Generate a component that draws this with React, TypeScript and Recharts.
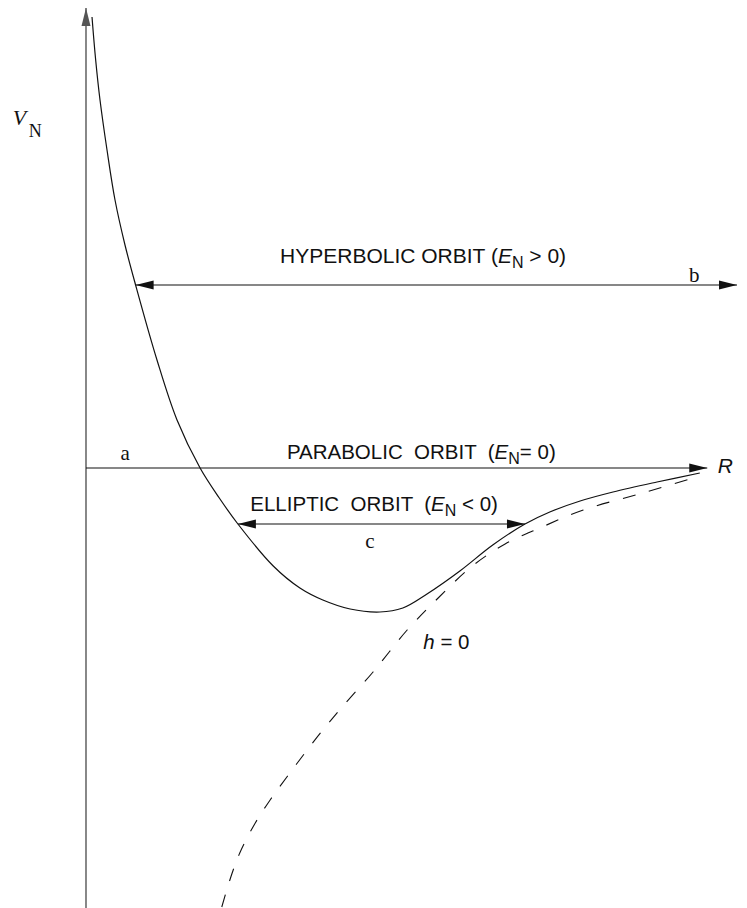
import React from "react";
import { ComposedChart, Line, XAxis, YAxis, ReferenceLine, ReferenceDot } from "recharts";

// effective potential V_N(R) for h > 0
const potential = [
  { r: 0.097, v: 9.02 },
  { r: 0.156, v: 8.16 },
  { r: 0.226, v: 7.36 },
  { r: 0.339, v: 6.36 },
  { r: 0.468, v: 5.36 },
  { r: 0.629, v: 4.46 },
  { r: 0.8, v: 3.66 },
  { r: 1.145, v: 2.16 },
  { r: 1.468, v: 0.96 },
  { r: 1.84, v: 0 },
  { r: 2.15, v: -0.6 },
  { r: 2.45, v: -1.12 },
  { r: 3.02, v: -1.96 },
  { r: 3.45, v: -2.4 },
  { r: 3.82, v: -2.64 },
  { r: 4.26, v: -2.82 },
  { r: 4.74, v: -2.88 },
  { r: 5.11, v: -2.8 },
  { r: 5.5, v: -2.52 },
  { r: 6.03, v: -2.06 },
  { r: 6.56, v: -1.54 },
  { r: 7.08, v: -1.12 },
  { r: 7.48, v: -0.88 },
  { r: 7.97, v: -0.66 },
  { r: 8.5, v: -0.48 },
  { r: 9.21, v: -0.28 },
  { r: 9.9, v: -0.1 },
];

// h = 0 curve
const potentialH0 = [
  { r: 2.19, v: -8.78 },
  { r: 2.32, v: -8.24 },
  { r: 2.48, v: -7.7 },
  { r: 2.73, v: -7.1 },
  { r: 2.97, v: -6.64 },
  { r: 3.24, v: -6.18 },
  { r: 3.53, v: -5.7 },
  { r: 3.82, v: -5.24 },
  { r: 4.13, v: -4.78 },
  { r: 4.63, v: -4.08 },
  { r: 5.18, v: -3.24 },
  { r: 5.68, v: -2.6 },
  { r: 6.23, v: -1.96 },
  { r: 6.76, v: -1.52 },
  { r: 7.32, v: -1.2 },
  { r: 8.02, v: -0.84 },
  { r: 8.98, v: -0.5 },
  { r: 9.85, v: -0.18 },
];

const rDomain = [-1.387, 10.661];
const vDomain = [-8.8, 9.36];

// energy levels: [E_N, R start, R end]
const hyperbolic = [3.66, 0.8, 10.5];
const parabolic = [0, 0, 10.02];
const elliptic = [-1.12, 2.45, 7.08];
const vAxisTop = 9.2;

const SANS = "'Liberation Sans', Arial, Helvetica, sans-serif";
const SERIF = "'Liberation Serif', 'Times New Roman', serif";

// centripetal Catmull-Rom, passed to <Line type> as a curve factory
type Pt = [number, number];
const centripetal = (ctx: any) => {
  let pts: Pt[] = [];
  const seg = (p0: Pt | undefined, p1: Pt, p2: Pt, p3: Pt | undefined) => {
    const dist = (a: Pt, b: Pt) => Math.hypot(a[0] - b[0], a[1] - b[1]);
    const l01 = p0 ? Math.sqrt(dist(p0, p1)) : 0;
    const l12 = Math.sqrt(dist(p1, p2));
    const l23 = p3 ? Math.sqrt(dist(p2, p3)) : 0;
    let c1: Pt = [p1[0], p1[1]];
    let c2: Pt = [p2[0], p2[1]];
    if (p0 && l01 > 1e-9) {
      const a = 2 * l01 * l01 + 3 * l01 * l12 + l12 * l12;
      const n = 3 * l01 * (l01 + l12);
      c1 = [0, 1].map((k) => (p1[k] * a - p0[k] * l12 * l12 + p2[k] * l01 * l01) / n) as Pt;
    }
    if (p3 && l23 > 1e-9) {
      const b = 2 * l23 * l23 + 3 * l23 * l12 + l12 * l12;
      const m = 3 * l23 * (l23 + l12);
      c2 = [0, 1].map((k) => (p2[k] * b + p1[k] * l23 * l23 - p3[k] * l12 * l12) / m) as Pt;
    }
    ctx.bezierCurveTo(c1[0], c1[1], c2[0], c2[1], p2[0], p2[1]);
  };
  return {
    areaStart() {},
    areaEnd() {},
    lineStart() {
      pts = [];
    },
    point(x: number, y: number) {
      pts.push([+x, +y]);
    },
    lineEnd() {
      if (!pts.length) return;
      ctx.moveTo(pts[0][0], pts[0][1]);
      for (let i = 0; i < pts.length - 1; i++) {
        seg(pts[i - 1], pts[i], pts[i + 1], pts[i + 2]);
      }
    },
  };
};

const head = (tx: number, ty: number, ang: number, len = 18, half = 4.5) => {
  const bx = tx - len * Math.cos(ang);
  const by = ty - len * Math.sin(ang);
  const px = -Math.sin(ang) * half;
  const py = Math.cos(ang) * half;
  return `${tx},${ty} ${bx + px},${by + py} ${bx - px},${by - py}`;
};

const arrow = (stroke: string, width: number, atStart: boolean, atEnd: boolean) => (p: any) => {
  const { x1, y1, x2, y2 } = p;
  const ang = Math.atan2(y2 - y1, x2 - x1);
  return (
    <g>
      <line x1={x1} y1={y1} x2={x2} y2={y2} stroke={stroke} strokeWidth={width} />
      {atStart && <polygon points={head(x1, y1, ang + Math.PI)} fill={stroke} />}
      {atEnd && <polygon points={head(x2, y2, ang)} fill={stroke} />}
    </g>
  );
};

const at = (render: (x: number, y: number) => React.ReactElement) => (p: any) => render(p.cx, p.cy);

const Sub = ({ children, dy = 5 }: { children: string; dy?: number }) => (
  <tspan fontSize={16} dy={dy}>{children}</tspan>
);

export default function App() {
  return (
    <div style={{ position: "absolute", left: 0, top: 0 }}>
      <ComposedChart width={747} height={908} margin={{ top: 0, right: 0, bottom: 0, left: 0 }}>
        <XAxis type="number" dataKey="r" domain={rDomain} hide allowDataOverflow />
        <YAxis type="number" dataKey="v" domain={vDomain} hide allowDataOverflow />

        <ReferenceLine
          segment={[{ x: 0, y: vDomain[0] }, { x: 0, y: vAxisTop }]}
          shape={arrow("#555", 1.4, false, true)}
        />
        <ReferenceLine
          segment={[{ x: parabolic[1], y: parabolic[0] }, { x: parabolic[2], y: parabolic[0] }]}
          shape={arrow("#111", 1.2, false, true)}
        />
        <ReferenceLine
          segment={[{ x: hyperbolic[1], y: hyperbolic[0] }, { x: hyperbolic[2], y: hyperbolic[0] }]}
          shape={arrow("#111", 1.2, true, true)}
        />
        <ReferenceLine
          segment={[{ x: elliptic[1], y: elliptic[0] }, { x: elliptic[2], y: elliptic[0] }]}
          shape={arrow("#111", 1.2, true, true)}
        />

        <Line
          data={potential}
          dataKey="v"
          type={centripetal as any}
          stroke="#111"
          strokeWidth={1.2}
          dot={false}
          activeDot={false}
          isAnimationActive={false}
        />
        <Line
          data={potentialH0}
          dataKey="v"
          type={centripetal as any}
          stroke="#111"
          strokeWidth={1.1}
          strokeDasharray="13 14"
          dot={false}
          activeDot={false}
          isAnimationActive={false}
        />

        {/* axis labels */}
        <ReferenceDot x={-1.18} y={6.86} r={0} ifOverflow="visible" shape={at((x, y) => (
          <text x={x} y={y} fontFamily={SERIF} fontSize={22} fill="#111">
            <tspan fontStyle="italic">V</tspan>
            <tspan fontSize={18} dx={2.5} dy={12}>N</tspan>
          </text>
        ))} />
        <ReferenceDot x={10.19} y={-0.1} r={0} ifOverflow="visible" shape={at((x, y) => (
          <text x={x} y={y} fontFamily={SANS} fontSize={21} fontStyle="italic" fill="#111">R</text>
        ))} />

        {/* orbit labels */}
        <ReferenceDot x={3.13} y={4.1} r={0} ifOverflow="visible" shape={at((x, y) => (
          <text x={x} y={y} fontFamily={SANS} fontSize={21} fill="#111" style={{ whiteSpace: "pre" }}>
            HYPERBOLIC ORBIT (<tspan fontStyle="italic">E</tspan><Sub>N</Sub><tspan dy={-5}> &gt; 0)</tspan>
          </text>
        ))} />
        <ReferenceDot x={3.24} y={0.18} r={0} ifOverflow="visible" shape={at((x, y) => (
          <text x={x} y={y} fontFamily={SANS} fontSize={20.5} fill="#111" style={{ whiteSpace: "pre" }}>
            {"PARABOLIC  ORBIT  ("}<tspan fontStyle="italic">E</tspan><Sub>N</Sub><tspan dy={-5}>{"= 0)"}</tspan>
          </text>
        ))} />
        <ReferenceDot x={2.65} y={-0.86} r={0} ifOverflow="visible" shape={at((x, y) => (
          <text x={x} y={y} fontFamily={SANS} fontSize={20.5} fill="#111" style={{ whiteSpace: "pre" }}>
            {"ELLIPTIC  ORBIT  ("}<tspan fontStyle="italic">E</tspan><Sub>N</Sub><tspan dy={-5}>{" < 0)"}</tspan>
          </text>
        ))} />
        <ReferenceDot x={5.44} y={-3.62} r={0} ifOverflow="visible" shape={at((x, y) => (
          <text x={x} y={y} fontFamily={SANS} fontSize={20.5} fill="#111">
            <tspan fontStyle="italic">h</tspan> = 0
          </text>
        ))} />

        {/* turning point markers */}
        <ReferenceDot x={0.63} y={0.16} r={0} ifOverflow="visible" shape={at((x, y) => (
          <text x={x} y={y} fontFamily={SERIF} fontSize={21} textAnchor="middle" fill="#111">a</text>
        ))} />
        <ReferenceDot x={9.81} y={3.72} r={0} ifOverflow="visible" shape={at((x, y) => (
          <text x={x} y={y} fontFamily={SERIF} fontSize={21} textAnchor="middle" fill="#111">b</text>
        ))} />
        <ReferenceDot x={4.58} y={-1.6} r={0} ifOverflow="visible" shape={at((x, y) => (
          <text x={x} y={y} fontFamily={SERIF} fontSize={21} textAnchor="middle" fill="#111">c</text>
        ))} />
      </ComposedChart>
    </div>
  );
}
